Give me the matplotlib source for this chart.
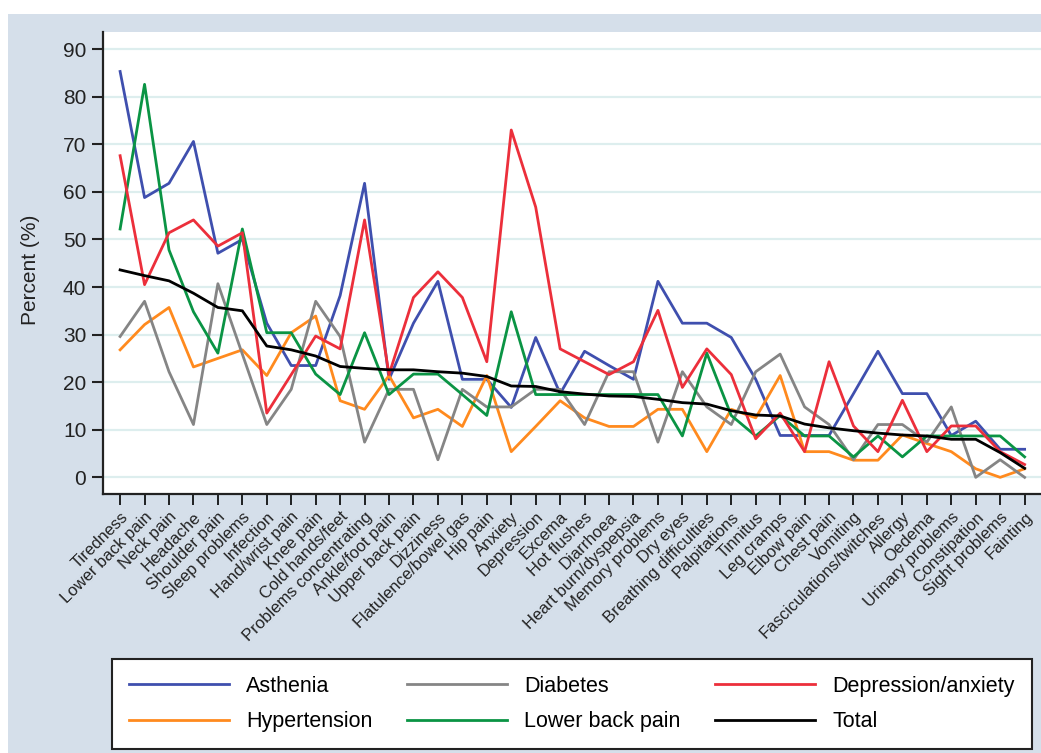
import matplotlib
matplotlib.use("Agg")
from matplotlib import pyplot as plt
from matplotlib.patches import Rectangle

plt.rcParams['font.family'] = ['Liberation Sans', 'DejaVu Sans']

symptoms = ["Tiredness", "Lower back pain", "Neck pain", "Headache", "Shoulder pain",
            "Sleep problems", "Infection", "Hand/wrist pain", "Knee pain", "Cold hands/feet",
            "Problems concentrating", "Ankle/foot pain", "Upper back pain", "Dizziness",
            "Flatulence/bowel gas", "Hip pain", "Anxiety", "Depression", "Excema",
            "Hot flushes", "Diarrhoea", "Heart burn/dyspepsia", "Memory problems", "Dry eyes",
            "Breathing difficulties", "Palpitations", "Tinnitus", "Leg cramps", "Elbow pain",
            "Chest pain", "Vomiting", "Fasciculations/twitches", "Allergy", "Oedema",
            "Urinary problems", "Constipation", "Sight problems", "Fainting"]

asthenia = [85.3, 58.8, 61.8, 70.6, 47.1, 50.0, 32.4, 23.5, 23.5, 38.2,
            61.8, 20.6, 32.4, 41.2, 20.6, 20.6, 14.7, 29.4, 17.6, 26.5,
            23.5, 20.6, 41.2, 32.4, 32.4, 29.4, 20.6, 8.8, 8.8, 8.8,
            17.6, 26.5, 17.6, 17.6, 8.8, 11.8, 5.9, 5.9]
diabetes = [29.6, 37.0, 22.2, 11.1, 40.7, 25.9, 11.1, 18.5, 37.0, 29.6,
            7.4, 18.5, 18.5, 3.7, 18.5, 14.8, 14.8, 18.5, 18.5, 11.1,
            22.2, 22.2, 7.4, 22.2, 14.8, 11.1, 22.2, 25.9, 14.8, 11.1,
            3.7, 11.1, 11.1, 7.4, 14.8, 0.0, 3.7, 0.0]
depression = [67.6, 40.5, 51.4, 54.1, 48.6, 51.4, 13.5, 21.6, 29.7, 27.0,
              54.1, 21.6, 37.8, 43.2, 37.8, 24.3, 73.0, 56.8, 27.0, 24.3,
              21.6, 24.3, 35.1, 18.9, 27.0, 21.6, 8.1, 13.5, 5.4, 24.3,
              10.8, 5.4, 16.2, 5.4, 10.8, 10.8, 5.4, 2.7]
hypertension = [26.8, 32.1, 35.7, 23.2, 25.0, 26.8, 21.4, 30.4, 33.9, 16.1,
                14.3, 21.4, 12.5, 14.3, 10.7, 21.4, 5.4, 10.7, 16.1, 12.5,
                10.7, 10.7, 14.3, 14.3, 5.4, 14.3, 12.5, 21.4, 5.4, 5.4,
                3.6, 3.6, 8.9, 7.1, 5.4, 1.8, 0.0, 1.8]
low_back = [52.2, 82.6, 47.8, 34.8, 26.1, 52.2, 30.4, 30.4, 21.7, 17.4,
            30.4, 17.4, 21.7, 21.7, 17.4, 13.0, 34.8, 17.4, 17.4, 17.4,
            17.4, 17.4, 17.4, 8.7, 26.1, 13.0, 8.7, 13.0, 8.7, 8.7,
            4.3, 8.7, 4.3, 8.7, 8.7, 8.7, 8.7, 4.3]
total = [43.6, 42.4, 41.3, 38.7, 35.7, 35.0, 27.6, 26.8, 25.5, 23.3,
         22.9, 22.6, 22.6, 22.2, 21.9, 21.2, 19.2, 19.1, 18.0, 17.5,
         17.1, 17.0, 16.4, 15.7, 15.4, 14.0, 13.1, 12.9, 11.2, 10.4,
         9.8, 9.3, 8.9, 8.7, 8.0, 8.0, 5.2, 1.9]

# legend fills row-wise: Asthenia, Diabetes, Depression / Hypertension, LBP, Total
series = [
    ("Asthenia", asthenia, "#3f4fae"),
    ("Hypertension", hypertension, "#ff8a1e"),
    ("Diabetes", diabetes, "#858585"),
    ("Lower back pain", low_back, "#0a9444"),
    ("Depression/anxiety", depression, "#ec2f3b"),
    ("Total", total, "#000000"),
]

W, H = 1041, 753
fig = plt.figure(figsize=(W / 100, H / 100), dpi=100)
fig.patch.set_facecolor("white")
fig.patches.append(Rectangle((8 / W, 0), 1, 1 - 14 / H, transform=fig.transFigure,
                             facecolor="#d5dfea", edgecolor="none", zorder=-10))

ax = fig.add_axes([103 / W, 1 - 494 / H, 1 - 103 / W, (494 - 32) / H])
ax.set_facecolor("white")

x = list(range(len(symptoms)))
for name, vals, col in series:
    ax.plot(x, vals, color=col, lw=2.0, label=name, zorder=3)

ax.set_xlim(-0.7, 37.67)
ax.set_ylim(-3.5, 93.6)
ax.set_yticks(range(0, 91, 10))
ax.yaxis.grid(True, color="#ddeeee", lw=1.6)
ax.set_axisbelow(True)

ax.set_xticks(x)
ax.set_xticklabels(symptoms, rotation=45, ha="right", rotation_mode="anchor",
                   fontsize=12, color="#222222")
ax.tick_params(axis="y", labelsize=15, length=8, width=1.5, colors="#222222", pad=4)
ax.tick_params(axis="x", length=8, width=1.2, pad=3)

for side in ("top", "right"):
    ax.spines[side].set_visible(False)
for side in ("left", "bottom"):
    ax.spines[side].set_linewidth(1.6)
    ax.spines[side].set_color("#222222")

fig.text(30 / W, 1 - 270 / H, "Percent (%)", rotation=90, ha="center", va="center",
         fontsize=15, color="#222222")

leg = fig.legend(loc="upper left", ncol=3, bbox_to_anchor=(112 / W, 1 - 659 / H),
                 fontsize=15.5, frameon=True, fancybox=False, framealpha=1,
                 handlelength=4.65, handletextpad=0.8, columnspacing=1.6,
                 borderaxespad=0, labelspacing=0.68, borderpad=0.78)
leg.get_frame().set_edgecolor("#222222")
leg.get_frame().set_linewidth(1.5)
for line in leg.get_lines():
    line.set_linewidth(2.0)

fig.savefig("out.png", dpi=100)
